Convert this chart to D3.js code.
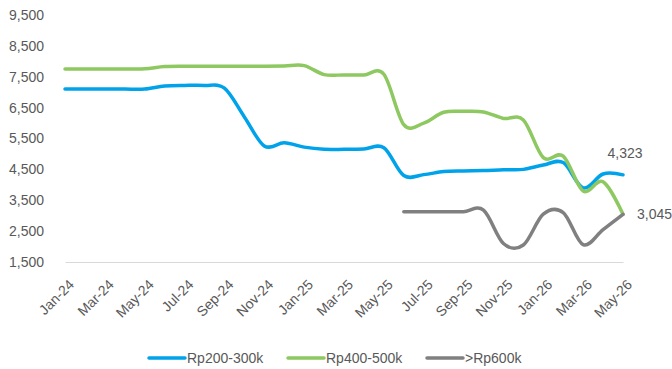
<!DOCTYPE html>
<html>
<head>
<meta charset="utf-8">
<script src="https://cdn.jsdelivr.net/npm/d3@7/dist/d3.min.js"></script>
<style>
  html, body { margin: 0; padding: 0; background: #ffffff; }
  svg { display: block; font-family: "Liberation Sans", Arial, sans-serif; }
</style>
</head>
<body>
<svg id="chart" width="672" height="369"></svg>
<script>
// Monthly categories
const months = [
  "Jan-24","Feb-24","Mar-24","Apr-24","May-24","Jun-24","Jul-24","Aug-24","Sep-24","Oct-24","Nov-24","Dec-24",
  "Jan-25","Feb-25","Mar-25","Apr-25","May-25","Jun-25","Jul-25","Aug-25","Sep-25","Oct-25","Nov-25","Dec-25",
  "Jan-26","Feb-26","Mar-26","Apr-26","May-26"
];
// Series values, one per month (null = no data)
const rp200_300k = [
  7100, 7100, 7100, 7100, 7100, 7200, 7220, 7220, 7130, 6200, 5260, 5360,
  5220, 5150, 5150, 5160, 5200, 4300, 4330, 4430, 4450, 4460, 4490, 4500,
  4640, 4720, 3900, 4350, 4323
];
const rp400_500k = [
  7750, 7750, 7750, 7750, 7760, 7830, 7840, 7840, 7840, 7840, 7840, 7850,
  7860, 7570, 7560, 7560, 7580, 5950, 6000, 6350, 6380, 6360, 6150, 6100,
  4880, 4930, 3800, 4100, 3045
];
const rp600kPlus = [
  null, null, null, null, null, null, null, null, null, null, null, null,
  null, null, null, null, null, 3130, 3130, 3130, 3130, 3180, 2100, 2050,
  3050, 3100, 2060, 2550, 3045
];
const seriesNames = ["Rp200-300k", "Rp400-500k", ">Rp600k"];
const yTicks = [1500, 2500, 3500, 4500, 5500, 6500, 7500, 8500, 9500];
const xTickLabels = months.filter((m, i) => i % 2 === 0);

const colors = ["#00a3ea", "#8dc860", "#808080"];
const textColor = "#595959";

const svg = d3.select("#chart");

const x = d3.scalePoint().domain(months).range([65, 623]);
const y = d3.scaleLinear().domain([1500, 9500]).range([262, 15]);

// Y axis (labels only)
const yAxis = svg.append("g")
  .attr("transform", "translate(65,0)")
  .call(d3.axisLeft(y).tickValues(yTicks).tickSize(0).tickPadding(21).tickFormat(d3.format(",")));
yAxis.select(".domain").remove();
yAxis.selectAll("text")
  .attr("fill", textColor)
  .style("font-size", "14px")
  .style("font-family", "'Liberation Sans', Arial, sans-serif");

// X axis with rotated month labels
const xAxis = svg.append("g")
  .attr("transform", `translate(0,${y(1500)})`)
  .call(d3.axisBottom(x).tickValues(xTickLabels).tickSize(0).tickSizeOuter(0));
xAxis.select(".domain").attr("stroke", "#d9d9d9").attr("stroke-width", 1);
xAxis.selectAll("text")
  .attr("fill", textColor)
  .style("font-size", "14px")
  .style("font-family", "'Liberation Sans', Arial, sans-serif")
  .attr("text-anchor", "end")
  .attr("y", 0)
  .attr("dy", "0.35em")
  .attr("transform", "translate(6,20) rotate(-45)");

// Lines
const line = d3.line()
  .defined(d => d != null)
  .x((d, i) => x(months[i]))
  .y(d => y(d))
  .curve(d3.curveCardinal.tension(0));

const allSeries = [rp200_300k, rp400_500k, rp600kPlus];
allSeries.forEach((vals, k) => {
  svg.append("path")
    .datum(vals)
    .attr("fill", "none")
    .attr("stroke", colors[k])
    .attr("stroke-width", 3.5)
    .attr("stroke-linejoin", "round")
    .attr("stroke-linecap", "round")
    .attr("d", line);
});

// End value labels
const last = months.length - 1;
const fmt = d3.format(",");
svg.append("text")
  .attr("x", x(months[last]) + 2)
  .attr("y", y(rp200_300k[last]) - 17)
  .attr("text-anchor", "middle")
  .attr("fill", textColor)
  .style("font-size", "14px")
  .text(fmt(rp200_300k[last]));
svg.append("text")
  .attr("x", x(months[last]) + 14)
  .attr("y", y(rp400_500k[last]))
  .attr("dy", "0.35em")
  .attr("text-anchor", "start")
  .attr("fill", textColor)
  .style("font-size", "14px")
  .text(fmt(rp400_500k[last]));

// Legend
const legendX = [149, 288, 427];
const legend = svg.append("g").attr("transform", "translate(0,358)");
seriesNames.forEach((name, k) => {
  const g = legend.append("g").attr("transform", `translate(${legendX[k]},0)`);
  g.append("line")
    .attr("x1", 0).attr("x2", 36)
    .attr("y1", 0).attr("y2", 0)
    .attr("stroke", colors[k])
    .attr("stroke-width", 3.5)
    .attr("stroke-linecap", "round");
  g.append("text")
    .attr("x", 38)
    .attr("y", 0)
    .attr("dy", "0.35em")
    .attr("fill", textColor)
    .style("font-size", "14px")
    .text(name);
});
</script>
</body>
</html>
